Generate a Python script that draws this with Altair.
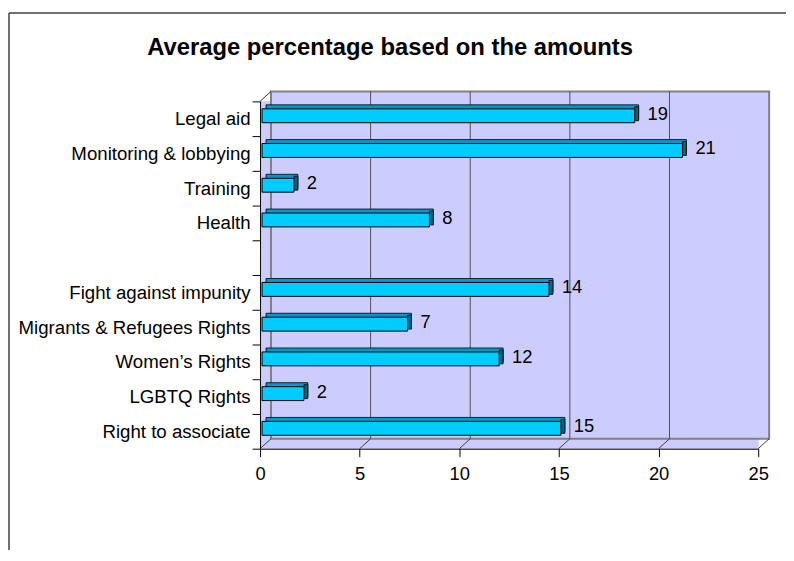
import altair as alt
import pandas as pd

# ---- data ----
categories = [
    "Legal aid",
    "Monitoring & lobbying",
    "Training",
    "Health\u00a0",
    "\u00a0",
    "Fight against impunity",
    "Migrants & Refugees Rights",
    "Women\u2019s Rights",
    "LGBTQ Rights",
    "Right to associate",
]
values = [18.7, 21.1, 1.6, 8.4, None, 14.4, 7.3, 11.9, 2.1, 15.0]
value_labels = ["19", "21", "2", "8", "", "14", "7", "12", "2", "15"]
x_ticks = [0, 5, 10, 15, 20, 25]
wall_grid = [5, 10, 15, 20]

title_text = "Average percentage based on the amounts"

FONT = "Liberation Sans"
W, H = 502, 350

bars_df = pd.DataFrame(
    {"category": categories, "value": values, "label": value_labels}
).dropna(subset=["value"])
ticks_df = pd.DataFrame({"t": x_ticks})
grid_df = pd.DataFrame({"t": wall_grid})
one = pd.DataFrame({"a": [0]})
title_df = pd.DataFrame({"title": [title_text]})

xscale = alt.Scale(domain=[0, 25], nice=False, zero=True)
yscale = alt.Scale(domain=categories, paddingInner=0, paddingOuter=0)

x_axis = alt.Axis(
    values=x_ticks, title=None, grid=False, domainColor="black", domainWidth=1,
    tickColor="black", tickSize=8, labelPadding=8, labelFont=FONT,
    labelFontSize=18.5, labelColor="black", zindex=1, format="d",
    labelFlush=False, labelOverlap=False,
)
y_axis = alt.Axis(
    title=None, grid=False, domainColor="black", domainWidth=1, tickColor="black",
    tickSize=8, tickBand="extent", labelPadding=2, labelFont=FONT,
    labelFontSize=18.8, labelColor="black", labelLimit=320, zindex=1,
)

X = alt.X("value:Q", scale=xscale, axis=x_axis)
Y = alt.Y("category:N", scale=yscale, axis=y_axis, sort=categories)

# front floor / left-side fill
front_fill = alt.Chart(one).mark_rect(fill="#CCCCFF", strokeWidth=0).encode(
    x=alt.datum(0, scale=xscale), x2=alt.datum(25),
    y=alt.value(0), y2=alt.value(H),
)

# back wall
wall = alt.Chart(one).mark_rect(
    fill="#CCCCFF", stroke="#808080", strokeWidth=2, xOffset=11, x2Offset=11
).encode(
    x=alt.datum(0), x2=alt.datum(25), y=alt.value(-10), y2=alt.value(H - 10)
)

# wall gridlines
grid = alt.Chart(grid_df).mark_rule(color="#505050", strokeWidth=1, xOffset=11).encode(
    x="t:Q", y=alt.value(-10), y2=alt.value(H - 10)
)

# floor diagonals
floor = alt.Chart(ticks_df).mark_rule(
    color="#404040", strokeWidth=1, xOffset=0, x2Offset=11
).encode(x="t:Q", x2="t:Q", y=alt.value(H), y2=alt.value(H - 10))

# top-left diagonal of the side wall
corner = alt.Chart(one).mark_rule(
    color="#303030", strokeWidth=1, xOffset=0, x2Offset=11
).encode(x=alt.datum(0), x2=alt.datum(0), y=alt.value(0), y2=alt.value(-10))

# outer chart frame (left and top edges)
frame_top = alt.Chart(one).mark_rule(color="#404040", strokeWidth=1.5).encode(
    x=alt.value(-253), x2=alt.value(540), y=alt.value(-89)
)
frame_left = alt.Chart(one).mark_rule(color="#404040", strokeWidth=1.5).encode(
    x=alt.value(-253), y=alt.value(-89), y2=alt.value(470)
)

# chart title
title = alt.Chart(title_df).mark_text(
    font=FONT, fontSize=24, fontWeight="bold", color="black",
    align="center", baseline="alphabetic",
).encode(text="title:N", x=alt.value(131), y=alt.value(-47))

# 3D bars
bar_back = alt.Chart(bars_df).mark_bar(
    fill="#0099CC", stroke="black", strokeWidth=0.8, height=14,
    yOffset=-7, xOffset=6, x2Offset=6,
).encode(x=X, x2=alt.datum(0), y=Y)

bar_end = alt.Chart(bars_df).mark_bar(
    fill="#006680", stroke="black", strokeWidth=0.8, height=14,
    yOffset=-5, xOffset=2, x2Offset=6,
).encode(x="value:Q", x2="value:Q", y=Y)

bar_front = alt.Chart(bars_df).mark_bar(
    fill="#00CCFF", stroke="black", strokeWidth=1, height=14,
    yOffset=-3, xOffset=2, x2Offset=2,
).encode(x=X, x2=alt.datum(0), y=Y)

labels = alt.Chart(bars_df).mark_text(
    align="left", baseline="middle", dx=15, dy=-5, font=FONT, fontSize=18.5,
    color="black",
).encode(x="value:Q", y=Y, text="label:N")

chart = alt.layer(
    front_fill, wall, grid, floor, corner, frame_top, frame_left, title,
    bar_back, bar_end, bar_front, labels,
).properties(
    width=W,
    height=H,
    autosize=alt.AutoSizeParams(type="none"),
    padding={"left": 254, "top": 92, "right": 28, "bottom": 100},
).configure_view(stroke=None).configure(background="white")

chart.save("out.html", embed_options={"renderer": "svg", "actions": False})
